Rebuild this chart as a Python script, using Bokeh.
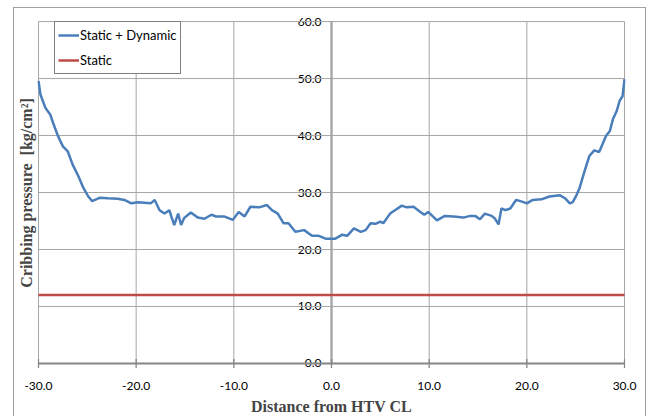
import math

from bokeh.plotting import figure
from bokeh.models import (FixedTicker, Legend, LegendItem, LinearAxis,
                          NumeralTickFormatter)
from bokeh.embed import file_html
from bokeh.resources import INLINE

# Distance from HTV centreline [m] and cribbing pressure [kg/cm2]
distance = [-30.0, -29.8, -29.3, -28.8, -28.5, -28.0, -27.5, -27.0, -26.5, -25.9,
            -25.4, -24.9, -24.5, -23.7, -22.9, -21.9, -21.2, -20.5, -19.8, -18.5,
            -18.1, -17.6, -17.1, -16.6, -16.4, -16.1, -15.7, -15.4, -15.1, -14.4,
            -13.7, -13.0, -12.3, -11.8, -11.0, -10.1, -9.5, -8.9, -8.3, -7.4,
            -6.6, -6.1, -5.5, -4.9, -4.4, -3.7, -2.8, -2.0, -1.3, -0.6,
            0.4, 1.1, 1.6, 2.3, 3.0, 3.5, 4.0, 4.5, 5.0, 5.3,
            6.0, 6.5, 7.2, 7.7, 8.4, 9.1, 9.5, 9.9, 10.8, 11.6,
            12.5, 13.5, 14.2, 14.7, 15.2, 15.7, 16.4, 16.7, 17.1, 17.4,
            17.8, 18.3, 18.9, 19.5, 20.0, 20.6, 21.5, 22.3, 23.4, 23.9,
            24.4, 24.7, 25.1, 25.4, 25.9, 26.4, 26.9, 27.4, 27.8, 28.1,
            28.5, 28.8, 29.2, 29.5, 29.8, 29.9, 30.0]
static_dynamic = [49.6, 47.2, 44.9, 43.7, 42.2, 39.9, 38.1, 37.2, 34.9, 32.8,
                  30.8, 29.3, 28.5, 29.1, 29.0, 28.9, 28.7, 28.1, 28.3, 28.1,
                  28.7, 26.9, 26.3, 26.9, 25.8, 24.3, 26.3, 24.3, 25.5, 26.5,
                  25.6, 25.4, 26.1, 25.8, 25.8, 25.2, 26.6, 25.8, 27.5, 27.4,
                  27.8, 26.9, 26.3, 24.6, 24.6, 23.1, 23.4, 22.4, 22.4, 21.9,
                  21.9, 22.6, 22.4, 23.7, 23.1, 23.4, 24.6, 24.5, 24.9, 24.6,
                  26.3, 26.9, 27.7, 27.4, 27.5, 26.6, 26.1, 26.6, 25.1, 25.9,
                  25.8, 25.6, 25.9, 25.9, 25.3, 26.3, 25.9, 25.5, 24.4, 27.2,
                  26.9, 27.2, 28.7, 28.4, 28.1, 28.7, 28.8, 29.3, 29.5, 29.0,
                  28.1, 28.3, 29.6, 30.8, 33.7, 36.4, 37.4, 37.1, 38.7, 39.9,
                  40.8, 42.8, 44.3, 46.1, 46.9, 48.4, 49.9]
static_x = [-30.0, 30.0]
static_p = [12.0, 12.0]

x_ticks = [-30, -20, -10, 0, 10, 20, 30]
y_ticks = [0, 10, 20, 30, 40, 50, 60]

BLUE = "#4a7ebb"
RED = "#be4b48"
GRID = "#a6a6a6"
AXIS = "#868686"
TICK_FONT = "Lato"
TITLE_FONT = "Liberation Serif"

x_lo, x_hi = x_ticks[0], x_ticks[-1]
y_lo, y_hi = y_ticks[0], y_ticks[-1]

# the frame is padded a little so the end labels of the centre axis fit
p = figure(width=633, height=409,
           x_range=(x_lo - 0.1, x_hi + 0.1), y_range=(y_lo - 1.76, y_hi + 1.59),
           output_backend="svg", toolbar_location=None,
           min_border_left=0, min_border_top=4, min_border_right=22,
           min_border_bottom=0)
p.margin = (7, 0, 0, 13)
p.styles = {"border-top": "1px solid #a0a0a0", "border-left": "1px solid #a0a0a0",
            "border-right": "1px solid #a0a0a0"}
p.background_fill_color = "white"
p.border_fill_color = "white"
p.outline_line_color = None
p.xgrid.grid_line_color = None
p.ygrid.grid_line_color = None

# plot-area grid, bounded by the first and last ticks
p.segment(x0=x_ticks, y0=[y_lo] * len(x_ticks), x1=x_ticks, y1=[y_hi] * len(x_ticks),
          line_color=GRID, line_width=1)
p.segment(x0=[x_lo] * len(y_ticks), y0=y_ticks, x1=[x_hi] * len(y_ticks), y1=y_ticks,
          line_color=GRID, line_width=1)
# category axis line along y = 0 with its tick marks
p.segment(x0=[x_lo], y0=[y_lo], x1=[x_hi], y1=[y_lo], line_color=AXIS, line_width=2)
p.scatter(x=x_ticks, y=[y_lo] * len(x_ticks), marker="dash", angle=math.pi / 2,
          size=9, line_color=AXIS, line_width=1.3)

# bottom axis: labels and title only
xa = p.xaxis[0]
xa.ticker = FixedTicker(ticks=x_ticks)
xa.formatter = NumeralTickFormatter(format="0.0")
xa.axis_line_color = None
xa.major_tick_line_color = None
xa.major_tick_out = 0
xa.major_tick_in = 0
xa.minor_tick_line_color = None
xa.major_label_standoff = 8
xa.major_label_text_font = TICK_FONT
xa.major_label_text_font_size = "12px"
xa.major_label_text_color = "black"
xa.axis_label = "Distance from HTV CL"
xa.axis_label_text_font = TITLE_FONT
xa.axis_label_text_font_style = "bold"
xa.axis_label_text_font_size = "16px"
xa.axis_label_standoff = 5

# value axis drawn through x = 0
ya = p.yaxis[0]
ya.fixed_location = 0
ya.bounds = (y_lo, y_hi)
ya.level = "underlay"
ya.ticker = FixedTicker(ticks=y_ticks)
ya.formatter = NumeralTickFormatter(format="0.0")
ya.axis_line_color = AXIS
ya.axis_line_width = 2
ya.major_tick_line_color = AXIS
ya.major_tick_out = 4
ya.major_tick_in = 0
ya.minor_tick_line_color = None
ya.major_label_standoff = 6
ya.major_label_text_font = TICK_FONT
ya.major_label_text_font_size = "12px"
ya.major_label_text_color = "black"

# title axis on the left edge
title_axis = LinearAxis(ticker=FixedTicker(ticks=[]),
                        axis_label="Cribbing pressure\u00a0 [kg/cm\u00b2]",
                        axis_label_text_font=TITLE_FONT,
                        axis_label_text_font_style="bold",
                        axis_label_text_font_size="16px",
                        axis_label_standoff=3,
                        axis_line_color=None, major_tick_line_color=None,
                        minor_tick_line_color=None)
p.add_layout(title_axis, "left")

r_dyn = p.line(distance, static_dynamic, line_color=BLUE, line_width=2.5)
r_sta = p.line(static_x, static_p, line_color=RED, line_width=2.5)

legend = Legend(items=[LegendItem(label="Static + Dynamic", renderers=[r_dyn]),
                       LegendItem(label="Static", renderers=[r_sta])],
                location=(17, 299), orientation="vertical",
                border_line_color="black", border_line_width=1,
                background_fill_color="white", background_fill_alpha=1,
                padding=3, spacing=5, margin=0,
                glyph_width=21, glyph_height=20, label_standoff=1,
                label_text_font=TICK_FONT, label_text_font_size="13px",
                label_text_color="black")
p.add_layout(legend)

open("out.html", "w").write(file_html(p, INLINE))
